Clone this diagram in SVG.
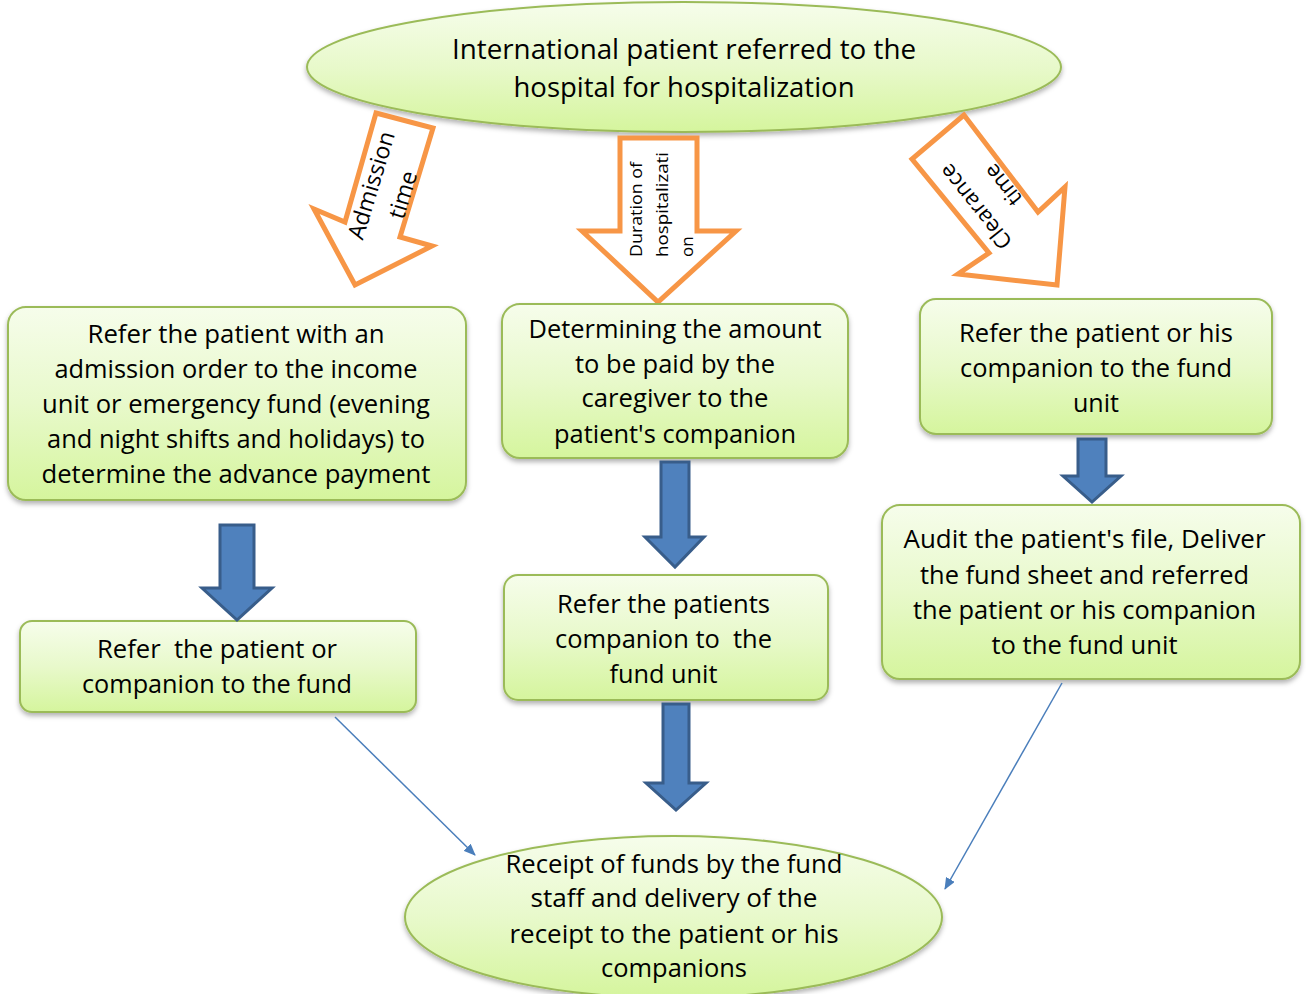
<svg xmlns="http://www.w3.org/2000/svg" width="1306" height="994" viewBox="0 0 1306 994">
  <defs>
    <linearGradient id="gfill" x1="0" y1="0" x2="0" y2="1">
      <stop offset="0" stop-color="#f6fdeb"/>
      <stop offset="0.5" stop-color="#e8f9cb"/>
      <stop offset="1" stop-color="#d5f59d"/>
    </linearGradient>
    <filter id="sh" x="-10%" y="-10%" width="120%" height="130%">
      <feDropShadow dx="0" dy="3" stdDeviation="2.5" flood-color="#000" flood-opacity="0.3"/>
    </filter>
    <marker id="ah" viewBox="0 0 12 10" refX="11" refY="5" markerWidth="12" markerHeight="10" markerUnits="userSpaceOnUse" orient="auto">
      <path d="M0,0 L12,5 L0,10 Z" fill="#4a7ebb"/>
    </marker>
    <style>
      .box { fill: url(#gfill); stroke: #9bbb59; stroke-width: 2; filter: url(#sh); }
      .t { font-family: "Open Sans", "Noto Sans", "Liberation Sans", sans-serif; font-size: 25px; fill: #000; text-anchor: middle; }
      .tt { font-size: 26.5px; }
      .or { fill: #fff; stroke: #f79646; stroke-width: 5; stroke-linejoin: miter; }
      .ot { font-family: "Open Sans", "Noto Sans", "Liberation Sans", sans-serif; fill: #000; }
      .bl { fill: #4f81bd; stroke: #385d8a; stroke-width: 3; }
      .ln { fill: none; stroke: #4a7ebb; stroke-width: 1.5; marker-end: url(#ah); }
    </style>
  </defs>
  <rect width="1306" height="994" fill="#fff"/>

  <g id="start">
    <ellipse class="box" cx="684" cy="67" rx="377" ry="65"/>
    <text class="t tt" x="684" y="59" textLength="464" lengthAdjust="spacingAndGlyphs">International patient referred to the</text>
    <text class="t tt" x="684" y="97" textLength="341" lengthAdjust="spacingAndGlyphs">hospital for hospitalization</text>
  </g>

  <g id="label-admission">
    <polygon class="or" points="376,113 433,128 400,237 432,246 355,285 314,209 345,222"/>
    <g transform="translate(387,190) rotate(-73.2)">
      <text class="ot" x="0" y="-8.5" font-size="23" text-anchor="middle">Admission</text>
      <text class="ot" x="0" y="24.5" font-size="23" text-anchor="middle">time</text>
    </g>
  </g>

  <g id="label-duration">
    <polygon class="or" points="620,138 697,138 697,231 736,231 658,302 582,231 620,231"/>
    <g transform="translate(660,257) rotate(-90)">
      <text class="ot" x="0" y="-18" font-size="17" textLength="95" lengthAdjust="spacingAndGlyphs">Duration of</text>
      <text class="ot" x="0" y="7.5" font-size="17" textLength="105" lengthAdjust="spacingAndGlyphs">hospitalizati</text>
      <text class="ot" x="0" y="33" font-size="17">on</text>
    </g>
  </g>

  <g id="label-clearance">
    <polygon class="or" points="964,115 912,159 989,253 958,274 1057,285 1065,187 1038,212"/>
    <g transform="translate(989,196) rotate(-128.5)">
      <text class="ot" x="0" y="-9.5" font-size="22" text-anchor="middle">Clearance</text>
      <text class="ot" x="0" y="25.5" font-size="22" text-anchor="middle">time</text>
    </g>
  </g>

  <g id="left1">
    <rect class="box" x="8" y="307" width="458" height="193" rx="18"/>
    <text class="t" x="236" y="343" textLength="297" lengthAdjust="spacingAndGlyphs">Refer the patient with an</text>
    <text class="t" x="236" y="378" textLength="363" lengthAdjust="spacingAndGlyphs">admission order to the income</text>
    <text class="t" x="236" y="413" textLength="388" lengthAdjust="spacingAndGlyphs">unit or emergency fund (evening</text>
    <text class="t" x="236" y="448" textLength="378" lengthAdjust="spacingAndGlyphs">and night shifts and holidays) to</text>
    <text class="t" x="236" y="483" textLength="389" lengthAdjust="spacingAndGlyphs">determine the advance payment</text>
  </g>

  <g id="left2">
    <rect class="box" x="20" y="621" width="396" height="91" rx="12"/>
    <text class="t" x="217" y="658" xml:space="preserve" textLength="240" lengthAdjust="spacingAndGlyphs">Refer  the patient or</text>
    <text class="t" x="217" y="693" textLength="270" lengthAdjust="spacingAndGlyphs">companion to the fund</text>
  </g>

  <g id="mid1">
    <rect class="box" x="502" y="304" width="346" height="154" rx="18"/>
    <text class="t" x="675" y="338" textLength="293" lengthAdjust="spacingAndGlyphs">Determining the amount</text>
    <text class="t" x="675" y="373" textLength="200" lengthAdjust="spacingAndGlyphs">to be paid by the</text>
    <text class="t" x="675" y="407" textLength="187" lengthAdjust="spacingAndGlyphs">caregiver to the</text>
    <text class="t" x="675" y="443" textLength="242" lengthAdjust="spacingAndGlyphs">patient's companion</text>
  </g>

  <g id="mid2">
    <rect class="box" x="504" y="575" width="324" height="125" rx="14"/>
    <text class="t" x="663.5" y="613" textLength="213" lengthAdjust="spacingAndGlyphs">Refer the patients</text>
    <text class="t" x="663.5" y="648" xml:space="preserve" textLength="217" lengthAdjust="spacingAndGlyphs">companion to  the</text>
    <text class="t" x="663.5" y="683" textLength="108" lengthAdjust="spacingAndGlyphs">fund unit</text>
  </g>

  <g id="right1">
    <rect class="box" x="920" y="299" width="352" height="135" rx="16"/>
    <text class="t" x="1096" y="342" textLength="274" lengthAdjust="spacingAndGlyphs">Refer the patient or his</text>
    <text class="t" x="1096" y="377" textLength="272" lengthAdjust="spacingAndGlyphs">companion to the fund</text>
    <text class="t" x="1096" y="412" textLength="46" lengthAdjust="spacingAndGlyphs">unit</text>
  </g>

  <g id="right2">
    <rect class="box" x="882" y="505" width="418" height="174" rx="18"/>
    <text class="t" x="1084.5" y="548" textLength="362" lengthAdjust="spacingAndGlyphs">Audit the patient's file, Deliver</text>
    <text class="t" x="1084.5" y="584" textLength="329" lengthAdjust="spacingAndGlyphs">the fund sheet and referred</text>
    <text class="t" x="1084.5" y="619" textLength="343" lengthAdjust="spacingAndGlyphs">the patient or his companion</text>
    <text class="t" x="1084.5" y="654" textLength="186" lengthAdjust="spacingAndGlyphs">to the fund unit</text>
  </g>

  <g id="end">
    <ellipse class="box" cx="673.5" cy="917" rx="268.5" ry="81"/>
    <text class="t" x="674" y="873" textLength="337" lengthAdjust="spacingAndGlyphs">Receipt of funds by the fund</text>
    <text class="t" x="674" y="907" textLength="287" lengthAdjust="spacingAndGlyphs">staff and delivery of the</text>
    <text class="t" x="674" y="943" textLength="329" lengthAdjust="spacingAndGlyphs">receipt to the patient or his</text>
    <text class="t" x="674" y="977" textLength="146" lengthAdjust="spacingAndGlyphs">companions</text>
  </g>

  <g id="connectors">
    <polygon class="bl" points="220,525 254,525 254,588 272,588 237,620 202,588 220,588"/>
    <polygon class="bl" points="661,462 689,462 689,537 704,537 675,567 645,537 661,537"/>
    <polygon class="bl" points="663,704 689,704 689,783 706,783 676,810 646,783 663,783"/>
    <polygon class="bl" points="1078,439 1106,439 1106,476 1121,476 1092,502 1063,476 1078,476"/>
    <line class="ln" x1="335" y1="717" x2="475" y2="855"/>
    <line class="ln" x1="1062" y1="683" x2="945" y2="889"/>
  </g>
</svg>
